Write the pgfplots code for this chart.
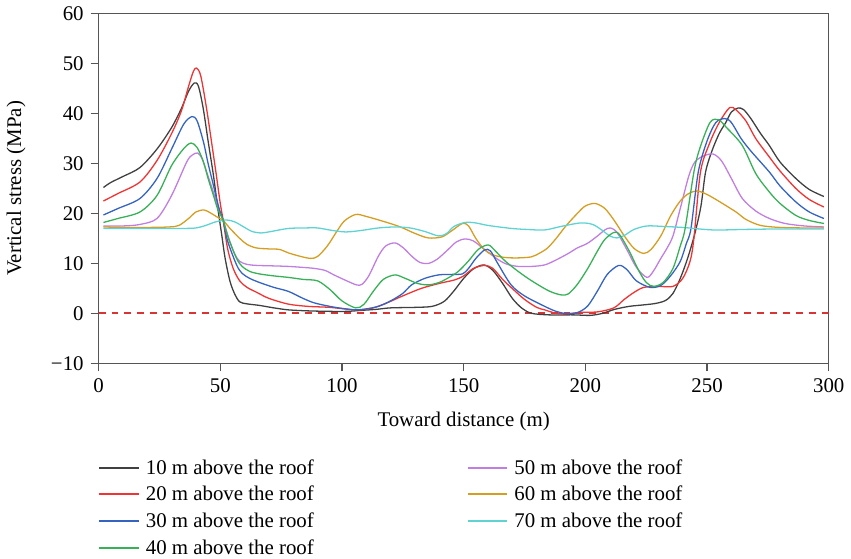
\documentclass[border=0pt]{standalone}
\usepackage{pgfplots}
\pgfplotsset{compat=1.18}
\usepackage{fontspec}
\setmainfont{Liberation Serif}

\definecolor{colA}{HTML}{404040}
\definecolor{colB}{HTML}{EE3434}
\definecolor{colC}{HTML}{3563C0}
\definecolor{colD}{HTML}{38B058}
\definecolor{colE}{HTML}{C07FE0}
\definecolor{colF}{HTML}{D49E22}
\definecolor{colG}{HTML}{5FD2D2}
\definecolor{zeroline}{HTML}{D83434}
\definecolor{axisgray}{HTML}{555555}

\begin{document}
\begin{tikzpicture}
\begin{axis}[
    scale only axis,
    width=367.5pt,
    height=176pt,
    xmin=0, xmax=300,
    ymin=-10, ymax=60,
    xtick={0,50,...,300},
    ytick={-10,0,...,60},
    yticklabels={−10,0,10,20,30,40,50,60},
    tick pos=left,
    tick align=outside,
    major tick length=4pt,
    axis line style={axisgray, line width=0.75pt},
    every tick/.style={axisgray, line width=0.6pt},
    tick label style={font=\fontsize{10.5}{12}\selectfont},
    /pgf/number format/assume math mode=true,
    label style={font=\fontsize{10.5}{12}\selectfont},
    xlabel={Toward distance (m)},
    ylabel={Vertical stress (MPa)},
    xlabel style={at={(axis description cs:0.5,-0.165)}, anchor=center},
    ylabel style={at={(axis description cs:-0.113,0.5)}, anchor=center},
    legend columns=2,
    legend cell align=left,
    legend style={
        at={(axis description cs:-0.001,-0.273)},
        anchor=north west,
        draw=none, fill=none,
        inner sep=0pt,
        font=\fontsize{10.5}{12}\selectfont,
        nodes={inner sep=0pt, text height=7.5pt, text depth=2pt},
        row sep=4pt,
        /tikz/every odd column/.append style={column sep=3pt},
        /tikz/every even column/.append style={column sep=77pt},
    },
    legend image code/.code={\draw[#1, line width=0.95pt] (0pt,0.5pt) -- (20pt,0.5pt);},
    every axis plot/.append style={line width=0.65pt, no markers},
]

% zero line
\addplot[draw=zeroline, dash pattern=on 3.5pt off 3pt, line width=0.8pt, forget plot] coordinates {(0,0.05) (300,0.05)};

% plots ordered so that the two-column legend fills row by row
\addplot[colA, smooth, tension=0.5] coordinates {
(2,25.2)(5,26.2)(10,27.4)(17,29.2)(24,32.9)(30,37.2)(34,41)(37,44.5)(39.3,46.1)(41,45.5)(43,41)(45,34.5)(47.2,27.6)(49,21)(50.6,15.7)(52,11)(54,6.4)(56,3.8)(58,2.3)(61,1.9)(66,1.6)(72,1.1)(78,0.7)(86,0.5)(95,0.4)(102,0.4)(108,0.6)(114,0.8)(120,1.1)(130,1.2)(137,1.4)(142,2.4)(146,4.5)(150,7)(154,8.9)(158.3,9.7)(162,8.6)(166,6)(170,3)(174,1)(178,0)(185,-0.3)(195,-0.3)(202,-0.4)(207,0)(212,0.8)(218,1.4)(224,1.7)(229,2)(233,2.6)(236,4)(239,7)(242,11)(245,16)(247.5,21.5)(249.4,28.3)(252,32.5)(255,36)(257.7,38.2)(260,40.3)(262.7,41.1)(265,40.8)(268,39)(272,36)(275.6,33.6)(280,30.3)(286.5,27)(292,24.8)(298,23.4)
};
\addlegendentry{10 m above the roof}

\addplot[colE, smooth, tension=0.5] coordinates {
(2,17.5)(10,17.5)(17,17.8)(24,19)(30,23.6)(36.2,30.3)(38.5,31.7)(40.7,32.1)(42.5,31)(44.4,28.3)(47,24.5)(49,21.5)(51.2,18.6)(54,14.3)(56,11.8)(58,10.4)(61,9.8)(65,9.6)(72,9.5)(78,9.4)(84,9.2)(88.6,9)(93,8.6)(96.7,7.7)(102,6.5)(106,5.7)(108.2,5.8)(111,7.5)(115,11.5)(118,13.5)(121.8,14.1)(125,13.2)(129,11.3)(132,10.2)(135.5,10)(139,10.8)(143,12.5)(147,14.3)(150.6,14.9)(154,14.5)(158,13)(161.5,11.7)(165,10.5)(168,9.8)(172.4,9.4)(178,9.4)(183.3,9.7)(188,10.7)(193,12)(196.7,13.1)(200.8,14)(205,15.5)(208,16.7)(210.3,17.1)(213,16.2)(217,12.8)(221,9.2)(225.3,7.2)(228,8.5)(231,11)(233.5,13)(236,15.5)(239,21)(242.5,27.5)(245,30.3)(248.5,31.5)(252.5,31.9)(256,30.5)(260,27)(264.5,23)(270,20.5)(275.6,19)(282,18)(290,17.5)(298,17.3)
};
\addlegendentry{50 m above the roof}

\addplot[colB, smooth, tension=0.5] coordinates {
(2,22.5)(8,24)(17,26.3)(24,30.6)(30,36)(34,40.5)(37,45.5)(39,48.5)(40.3,49.1)(42,47.5)(44.4,40.9)(46.5,34)(48.4,27.6)(50,22)(51.2,18.6)(53,13)(55.3,9)(58,6.5)(61,5.2)(65,4.2)(70,3)(78,1.85)(86,1.4)(95,1.2)(105.6,0.7)(112,1.0)(118,2)(125,3.5)(132.6,5)(140,6)(146.3,6.7)(150,7.5)(154,9)(158.6,9.6)(162,9)(166,6.8)(169.9,5)(175,2.8)(180,1.2)(183.3,0.7)(188,0)(192,-0.1)(198,0.2)(205,0.3)(211.7,1.1)(216,2.8)(220,4.2)(224,5.2)(230,5.4)(236,5.4)(240,7)(243,10.4)(244.6,15)(247.3,28.3)(251,34)(255,38.2)(259.3,41.2)(262,40.7)(266,38.5)(270,35)(275.6,31.3)(280,28.5)(286.5,25)(292,22.8)(298,21.3)
};
\addlegendentry{20 m above the roof}

\addplot[colF, smooth, tension=0.5] coordinates {
(2,17.3)(10,17.2)(20,17.2)(29,17.3)(33,17.6)(37,19)(40,20.3)(43.3,20.7)(46,20.1)(49,19.2)(51.2,18.6)(54,17)(58,15)(61,13.8)(64.8,13.1)(70,12.9)(74.3,12.8)(78,12.1)(83,11.4)(87.2,11)(90,11.4)(94,13.5)(98,16.5)(101,18.5)(105.6,19.8)(110,19.4)(117.8,18.3)(124,17.3)(130,16)(135.5,15.1)(141,15.3)(145,16.5)(149.5,18)(152,17.5)(155,15)(158.6,12.7)(162,11.7)(166.8,11.2)(172,11.1)(177.7,11.3)(181,12)(184.5,13.1)(188,15)(192,17.5)(196.7,20)(200,21.5)(204,22)(208,21)(212,18.5)(216,15.5)(220,13)(224,12)(227,12.8)(231,15.5)(235,19.5)(239,22.5)(242.5,24)(246,24.5)(250,23.8)(255,22.4)(261.9,20.3)(266,18.8)(272,17.6)(280,17.2)(290,17.1)(298,17.1)
};
\addlegendentry{60 m above the roof}

\addplot[colC, smooth, tension=0.5] coordinates {
(2,19.7)(8,21)(17,23)(24,27)(30,32.9)(35,37.9)(38.4,39.4)(40.5,38.5)(43.1,34.3)(45,30)(47.2,25.6)(49.5,21)(51.2,18.6)(53,14.5)(56.7,9.7)(59,8)(62.1,7)(66,6.2)(72,5.2)(78,4.4)(84,3)(88.6,2.1)(95,1.4)(100,1)(105.6,0.7)(110,0.9)(115,1.4)(120,2.5)(125,4)(128.6,5.7)(134,7)(139.7,7.7)(145,7.8)(149.5,7.9)(152,9)(155,11)(158.6,12.7)(161,12.5)(164,10)(169.5,5.7)(175,3.5)(183.3,1.4)(188,0.4)(192.8,-0.1)(197,0.2)(201,1.5)(205,4.5)(209,7.8)(213.7,9.6)(217,8.8)(221,6.5)(226.6,5.2)(231,5.6)(235,7.5)(239,10.4)(241.5,14)(243.4,17)(246.4,28.3)(250,34.5)(253.6,38.2)(257.3,39)(260,38.2)(264,35)(268,32.5)(275.6,28.3)(280,25.5)(286.5,22.3)(292,20.3)(298,19)
};
\addlegendentry{30 m above the roof}

\addplot[colG, smooth, tension=0.5] coordinates {
(2,17)(15,17)(25,17)(35,17)(40,17.1)(44,17.6)(48,18.3)(52.5,18.7)(56,18.3)(60,17.2)(63,16.4)(66.8,16.1)(71,16.4)(78,17)(85,17.1)(90,17.1)(96,16.6)(101.6,16.3)(108,16.6)(115,17.1)(122,17.3)(128,17.1)(134,16.4)(139.7,15.5)(143,16)(146,17.4)(150.6,18.2)(155,18.1)(160,17.6)(169.7,17)(176,16.8)(183.3,16.7)(190,17.4)(198,18.1)(203,17.8)(207,16.6)(210,15.5)(213,15.1)(216,15.6)(220,16.8)(225.3,17.5)(232,17.4)(240,17.2)(252.5,16.7)(265,16.8)(280,16.9)(298,16.9)
};
\addlegendentry{70 m above the roof}

\addplot[colD, smooth, tension=0.5] coordinates {
(2,18.2)(8,19)(17,20.3)(24,23.6)(30,29.6)(35,33)(38,34.1)(40.5,33.2)(43.1,30.3)(45,27)(47.2,23.6)(49,20.8)(51.2,18.6)(53,15.5)(56.7,11)(59,9.4)(62.1,8.4)(66,7.9)(72,7.5)(78,7.2)(84,6.8)(90,6.5)(95,4.8)(100,2.5)(105.6,1.1)(109,1.8)(113,4.5)(117,6.8)(121.8,7.7)(126,7)(131,6)(135.5,5.7)(140,6.2)(144,7.2)(147.8,8.4)(152,10.5)(156,12.8)(160.1,13.7)(163,12.5)(167,10.5)(172.4,8.4)(178,6.5)(185,4.5)(190,3.7)(193,3.9)(196.7,5.8)(201,9)(205,12.5)(208,14.8)(211.7,16.2)(214,15.8)(218,12.5)(222,8.5)(225,6.2)(228,5.4)(232,6.2)(236,9)(239,13.5)(241,17)(244.6,28.3)(247,33)(251.2,38.2)(254.6,38.8)(258,37.2)(264.5,33.6)(270,28)(275.6,24.3)(280,22)(286.5,19.6)(292,18.6)(298,18)
};
\addlegendentry{40 m above the roof}

\end{axis}
\end{tikzpicture}
\end{document}
